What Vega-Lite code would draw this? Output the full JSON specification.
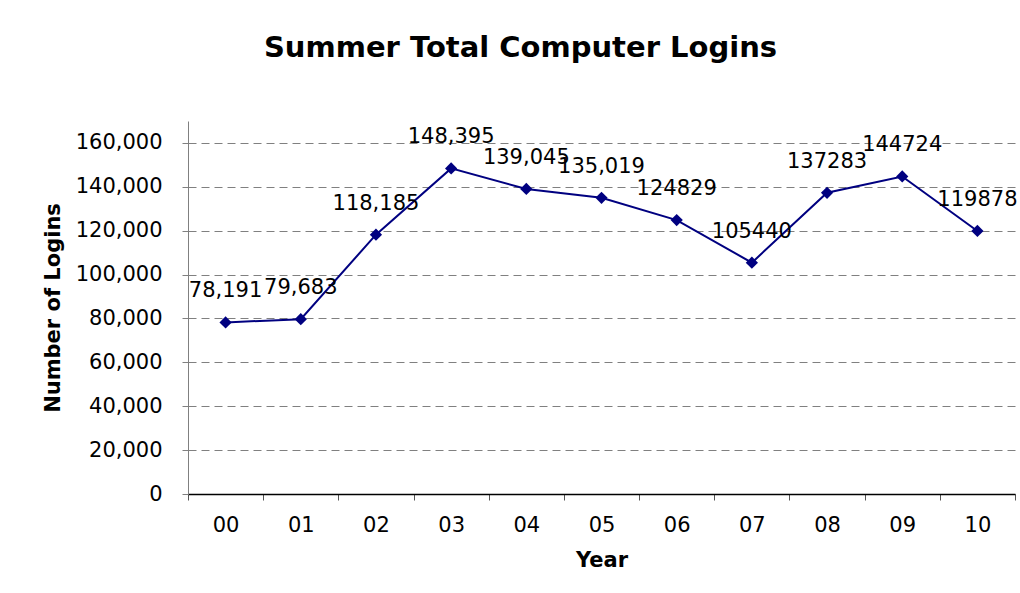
{
  "$schema": "https://vega.github.io/schema/vega-lite/v6.json",
  "width": 827,
  "height": 373,
  "autosize": {"type": "none"},
  "padding": {"left": 188, "top": 121, "right": 5, "bottom": 99},
  "background": "white",
  "title": {
    "text": "Summer Total Computer Logins",
    "font": "DejaVu Sans",
    "fontSize": 29,
    "fontWeight": "bold",
    "color": "black",
    "anchor": "middle",
    "frame": "group",
    "dx": -81,
    "offset": 58
  },
  "config": {
    "view": {"stroke": null},
    "font": "DejaVu Sans"
  },
  "data": {
    "values": [
      {"year": "00", "logins": 78191, "label": "78,191"},
      {"year": "01", "logins": 79683, "label": "79,683"},
      {"year": "02", "logins": 118185, "label": "118,185"},
      {"year": "03", "logins": 148395, "label": "148,395"},
      {"year": "04", "logins": 139045, "label": "139,045"},
      {"year": "05", "logins": 135019, "label": "135,019"},
      {"year": "06", "logins": 124829, "label": "124829"},
      {"year": "07", "logins": 105440, "label": "105440"},
      {"year": "08", "logins": 137283, "label": "137283"},
      {"year": "09", "logins": 144724, "label": "144724"},
      {"year": "10", "logins": 119878, "label": "119878"}
    ]
  },
  "encoding": {
    "x": {
      "field": "year",
      "type": "ordinal",
      "scale": {"paddingInner": 0, "paddingOuter": 0},
      "axis": {
        "title": "Year",
        "titleFont": "DejaVu Sans",
        "titleFontSize": 21,
        "titleFontWeight": "bold",
        "titleColor": "black",
        "titlePadding": 14,
        "labelAngle": 0,
        "labelFont": "DejaVu Sans",
        "labelFontSize": 21,
        "labelFontWeight": "normal",
        "labelColor": "black",
        "labelPadding": 14,
        "tickBand": "extent",
        "tickSize": 6,
        "tickColor": "#555555",
        "domainColor": "black",
        "domainWidth": 1.5,
        "grid": false
      }
    },
    "y": {
      "field": "logins",
      "type": "quantitative",
      "scale": {"domain": [0, 170000], "nice": false},
      "axis": {
        "title": "Number of Logins",
        "titleFont": "DejaVu Sans",
        "titleFontSize": 21,
        "titleFontWeight": "bold",
        "titleColor": "black",
        "titlePadding": 12,
        "values": [0, 20000, 40000, 60000, 80000, 100000, 120000, 140000, 160000],
        "format": ",d",
        "labelFont": "DejaVu Sans",
        "labelFontSize": 21,
        "labelColor": "black",
        "labelPadding": 20,
        "tickSize": 6,
        "tickColor": "#808080",
        "domainColor": "#808080",
        "domainWidth": 1,
        "grid": true,
        "gridColor": "#808080",
        "gridDash": [8, 5],
        "gridWidth": 1
      }
    }
  },
  "layer": [
    {
      "mark": {"type": "line", "color": "#000080", "strokeWidth": 2}
    },
    {
      "mark": {"type": "point", "shape": "diamond", "filled": true, "color": "#000080", "size": 150, "opacity": 1}
    },
    {
      "mark": {"type": "text", "dy": -31, "font": "DejaVu Sans", "fontSize": 21, "color": "black", "align": "center"},
      "encoding": {"text": {"field": "label"}}
    }
  ]
}
